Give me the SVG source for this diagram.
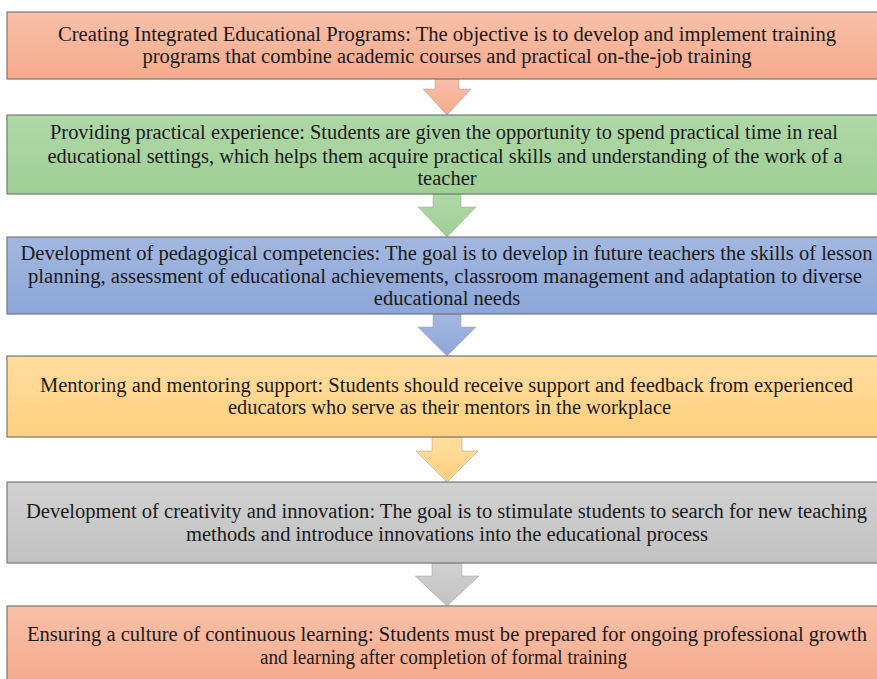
<svg xmlns="http://www.w3.org/2000/svg" width="877" height="679" viewBox="0 0 877 679">
<defs>
<linearGradient id="gSalmon" x1="0" y1="0" x2="0" y2="1"><stop offset="0" stop-color="#F8C0A9"/><stop offset="1" stop-color="#F5AA8C"/></linearGradient>
<linearGradient id="gGreen" x1="0" y1="0" x2="0" y2="1"><stop offset="0" stop-color="#AFD8A7"/><stop offset="1" stop-color="#A0CF96"/></linearGradient>
<linearGradient id="gBlue" x1="0" y1="0" x2="0" y2="1"><stop offset="0" stop-color="#A3B8E0"/><stop offset="1" stop-color="#8DA6D8"/></linearGradient>
<linearGradient id="gYellow" x1="0" y1="0" x2="0" y2="1"><stop offset="0" stop-color="#FFDDA0"/><stop offset="1" stop-color="#FFD07E"/></linearGradient>
<linearGradient id="gGray" x1="0" y1="0" x2="0" y2="1"><stop offset="0" stop-color="#D1D1D1"/><stop offset="1" stop-color="#C2C2C2"/></linearGradient>
</defs>
<style>
.box{stroke:#777;stroke-width:1.2}
.arr{stroke:#999;stroke-width:0.8;stroke-opacity:0.6}
text{font-family:"Liberation Serif","Times New Roman",serif;font-size:20.5px;fill:#1a1a1a;text-anchor:middle}
</style>
<g id="connectors">
<polygon class="arr" fill="url(#gSalmon)" points="435,79 459,79 459,89 471,89 447,115 423,89 435,89"/>
<polygon class="arr" fill="url(#gGreen)" points="433,194 461,194 461,207 476,207 447,237 418,207 433,207"/>
<polygon class="arr" fill="url(#gBlue)" points="433,314 461,314 461,327 476,327 447,356 418,327 433,327"/>
<polygon class="arr" fill="url(#gYellow)" points="432,437 462,437 462,451 478,451 447,482 416,451 432,451"/>
<polygon class="arr" fill="url(#gGray)" points="432,563 462,563 462,576 479,576 447,606 415,576 432,576"/>
</g>
<g id="node1">
<rect class="box" x="7" y="12" width="872" height="67" fill="url(#gSalmon)"/>
<text x="447" y="41" textLength="778" lengthAdjust="spacingAndGlyphs">Creating Integrated Educational Programs: The objective is to develop and implement training</text>
<text x="447" y="63" textLength="609" lengthAdjust="spacingAndGlyphs">programs that combine academic courses and practical on-the-job training</text>
</g>
<g id="node2">
<rect class="box" x="7" y="115" width="872" height="79" fill="url(#gGreen)"/>
<text x="444" y="139" textLength="788" lengthAdjust="spacingAndGlyphs">Providing practical experience: Students are given the opportunity to spend practical time in real</text>
<text x="445" y="163" textLength="795" lengthAdjust="spacingAndGlyphs">educational settings, which helps them acquire practical skills and understanding of the work of a</text>
<text x="447" y="185">teacher</text>
</g>
<g id="node3">
<rect class="box" x="7" y="237" width="872" height="77" fill="url(#gBlue)"/>
<text x="446.5" y="260" textLength="852" lengthAdjust="spacingAndGlyphs">Development of pedagogical competencies: The goal is to develop in future teachers the skills of lesson</text>
<text x="445" y="283" textLength="834" lengthAdjust="spacingAndGlyphs">planning, assessment of educational achievements, classroom management and adaptation to diverse</text>
<text x="447" y="305">educational needs</text>
</g>
<g id="node4">
<rect class="box" x="7" y="356" width="872" height="81" fill="url(#gYellow)"/>
<text x="446.5" y="392" textLength="813" lengthAdjust="spacingAndGlyphs">Mentoring and mentoring support: Students should receive support and feedback from experienced</text>
<text x="449.5" y="414" textLength="443" lengthAdjust="spacingAndGlyphs">educators who serve as their mentors in the workplace</text>
</g>
<g id="node5">
<rect class="box" x="7" y="482" width="872" height="81" fill="url(#gGray)"/>
<text x="446.5" y="518" textLength="841" lengthAdjust="spacingAndGlyphs">Development of creativity and innovation: The goal is to stimulate students to search for new teaching</text>
<text x="447" y="541" textLength="522" lengthAdjust="spacingAndGlyphs">methods and introduce innovations into the educational process</text>
</g>
<g id="node6">
<rect class="box" x="7" y="606" width="872" height="80" fill="url(#gSalmon)"/>
<text x="447" y="641" textLength="840" lengthAdjust="spacingAndGlyphs">Ensuring a culture of continuous learning: Students must be prepared for ongoing professional growth</text>
<text x="443.5" y="664" textLength="367" lengthAdjust="spacingAndGlyphs">and learning after completion of formal training</text>
</g>
</svg>
